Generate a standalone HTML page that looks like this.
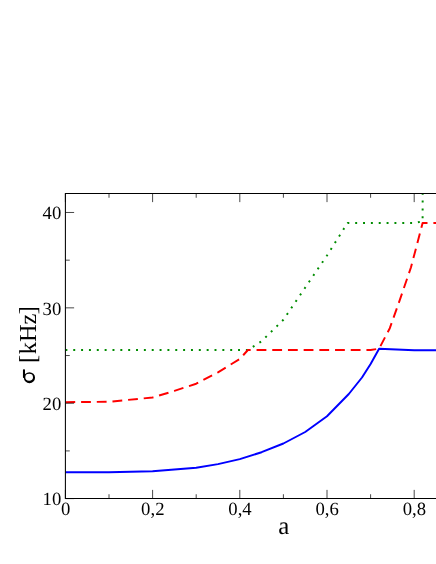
<!DOCTYPE html>
<html><head><meta charset="utf-8"><title>chart</title>
<style>
html,body{margin:0;padding:0;background:#fff;}
body{width:436px;height:564px;overflow:hidden;font-family:"Liberation Serif",serif;}
svg{display:block;will-change:transform;}
.t{font-family:"Liberation Serif",serif;text-rendering:geometricPrecision;}
</style>
</head><body>
<svg width="436" height="564" viewBox="0 0 436 564">
<rect width="436" height="564" fill="#fff"/>
<clipPath id="c"><rect x="65.40" y="193.40" width="400" height="305.20"/></clipPath>
<g fill="none" stroke-linejoin="round" clip-path="url(#c)">
<polyline points="65.40,350.05 247.90,350.05 261.60,341.20 283.40,319.80 327.00,255.50 347.50,223.00 414.20,223.00 422.60,221.30 422.70,190.00" stroke="#008c00" stroke-width="1.962" stroke-dasharray="1.962 5.886"/>
<polyline points="65.40,402.20 109.00,401.75 152.60,397.50 174.40,390.90 196.20,383.70 218.00,372.30 239.80,359.00 247.90,350.00 370.60,350.00 379.10,348.70 389.80,328.20 398.30,304.30 411.00,267.30 422.60,223.00 440.00,223.00" stroke="#ff0000" stroke-width="1.962" stroke-dasharray="9.810 5.886"/>
<polyline points="65.40,472.25 109.00,472.20 152.60,471.30 196.20,467.70 218.00,464.10 239.80,459.10 261.60,452.20 283.40,443.50 305.20,432.00 327.00,416.25 348.80,394.00 362.00,377.50 370.60,364.00 379.10,348.70 414.20,350.20 440.00,350.20" stroke="#0000ff" stroke-width="1.962"/>
</g>
<path d="M65.40 498.60v-8.72M65.40 193.40v8.72M109.00 498.60v-4.36M109.00 193.40v4.36M152.60 498.60v-8.72M152.60 193.40v8.72M196.20 498.60v-4.36M196.20 193.40v4.36M239.80 498.60v-8.72M239.80 193.40v8.72M283.40 498.60v-4.36M283.40 193.40v4.36M327.00 498.60v-8.72M327.00 193.40v8.72M370.60 498.60v-4.36M370.60 193.40v4.36M414.20 498.60v-8.72M414.20 193.40v8.72M65.40 498.60h8.72M65.40 450.91h4.36M65.40 403.23h8.72M65.40 355.54h4.36M65.40 307.85h8.72M65.40 260.16h4.36M65.40 212.48h8.72" stroke="#000" stroke-width="0.719" fill="none"/>
<path d="M440 193.40H65.40V498.60H440" stroke="#000" stroke-width="1.046" fill="none"/>
<g class="t" fill="#000">
<g font-size="18.7" text-anchor="end">
<text x="61.25" y="505.2">10</text>
<text x="61.25" y="409.5">20</text>
<text x="61.25" y="314.75">30</text>
<text x="61.25" y="219.4">40</text>
</g>
<g font-size="18.7" text-anchor="middle">
<text x="65.60" y="515.2">0</text>
<text x="152.80" y="515.2">0,2</text>
<text x="240.00" y="515.2">0,4</text>
<text x="327.20" y="515.2">0,6</text>
<text x="414.40" y="515.2">0,8</text>
</g>
<text x="283.8" y="533.85" font-size="24.9" text-anchor="middle">a</text>
<g transform="translate(36.2 0) rotate(-90)" font-size="24.4"><text x="-363.0" y="0" dx="0 0.6 0 0 -0.6">[kHz]</text></g>
<path fill-rule="evenodd" d="M23.85 377.70a5.60 5.45 0 1 0 11.20 0a5.60 5.45 0 1 0 -11.20 0ZM25.30 377.25a3.85 3.40 0 1 0 7.70 0a3.85 3.40 0 1 0 -7.70 0Z"/>
<rect x="22.95" y="369.3" width="2.05" height="8.7" rx="0.7"/>
</g>
</svg>
</body></html>
